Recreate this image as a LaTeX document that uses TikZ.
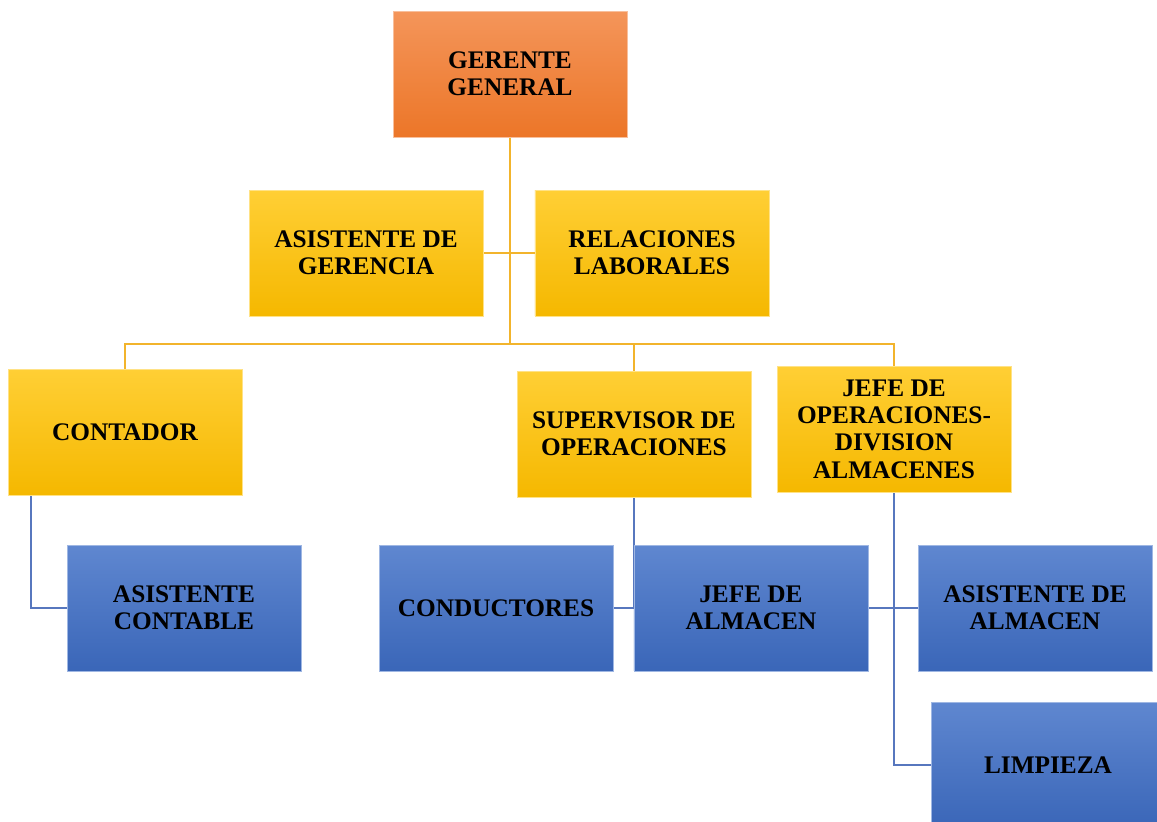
\documentclass[tikz,border=0pt]{standalone}
\usepackage{fontspec}
\setmainfont{Liberation Serif}
\usetikzlibrary{positioning,backgrounds}

\definecolor{naranja}{HTML}{EC7628}
\definecolor{naranjaclaro}{HTML}{F4955A}
\definecolor{oro}{HTML}{F5B800}
\definecolor{oroclaro}{HTML}{FFCF35}
\definecolor{azul}{HTML}{3A66B8}
\definecolor{azulclaro}{HTML}{5F87D0}
\definecolor{lineaoro}{HTML}{F2B42C}
\definecolor{lineaazul}{HTML}{5777BE}

\begin{document}
\begin{tikzpicture}[x=0.02cm, y=-0.02cm]
\tikzstyle{cargo}=[rectangle, minimum width=4.68cm, minimum height=2.52cm, inner sep=0pt, outer sep=0pt, align=center, font=\fontsize{14.4}{15.5}\selectfont\bfseries]
\tikzstyle{jefe}=[cargo, top color=naranjaclaro, bottom color=naranja, draw=naranjaclaro!60!white]
\tikzstyle{mando}=[cargo, top color=oroclaro, bottom color=oro, draw=oroclaro!60!white]
\tikzstyle{apoyo}=[cargo, top color=azulclaro, bottom color=azul, draw=azulclaro!60!white]
\tikzstyle{connect}=[line width=1.1pt, draw=lineaoro]
\tikzstyle{connectb}=[line width=1.1pt, draw=lineaazul]
  \useasboundingbox (0,0) rectangle (1157,822);
  \clip (0,0) rectangle (1157,822);
  % primer nivel
  \node[jefe] (gerente) at (510,74) {GERENTE\\GENERAL};
  \node[mando] (asisg) at (366,253) {ASISTENTE DE\\GERENCIA};
  \node[mando] (relac) [right=1.04cm of asisg] {RELACIONES\\LABORALES};
  % jefaturas
  \node[mando] (contador) at (125,432) {CONTADOR};
  \node[mando] (superv) at (634,434) {SUPERVISOR DE\\OPERACIONES};
  \node[mando] (jefeop) at (894,429) {JEFE DE\\OPERACIONES-\\DIVISION\\ALMACENES};
  % personal
  \node[apoyo] (asiscont) at (184,608) {ASISTENTE\\CONTABLE};
  \node[apoyo] (conduct) at (496,608) {CONDUCTORES};
  \node[apoyo] (jefealm) [right=0.42cm of conduct] {JEFE DE\\ALMACEN};
  \node[apoyo] (asisalm) at (1035,608) {ASISTENTE DE\\ALMACEN};
  \node[apoyo] (limp) at (1048,765) {LIMPIEZA};
  \coordinate (bus) at (510,344);
  \begin{scope}[on background layer]
  \path (gerente.south) edge [connect] (bus)
        (asisg.east) edge [connect] (relac.west);
  \draw[connect] (contador.north) |- (bus) -| (jefeop.north);
  \draw[connect] (bus) -| (superv.north);
  \draw[connectb] ([xshift=0.46cm]contador.south west) |- (asiscont.west);
  \draw[connectb] (superv.south) |- (conduct.east);
  \draw[connectb] (jefeop.south) |- (limp.west);
  \path (jefealm.east) edge [connectb] (asisalm.west);
  \end{scope}
\end{tikzpicture}
\end{document}
